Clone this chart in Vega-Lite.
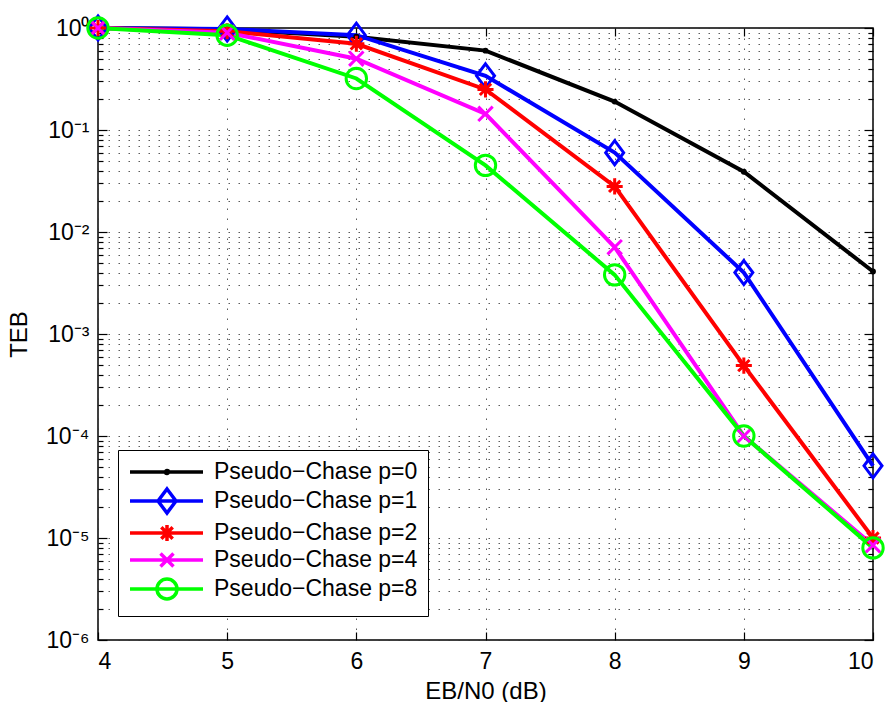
{
  "$schema": "https://vega.github.io/schema/vega-lite/v6.json",
  "width": 775,
  "height": 612,
  "autosize": "none",
  "padding": {"left": 98, "top": 28, "right": 15, "bottom": 62},
  "background": "white",
  "config": {
    "font": "Liberation Sans",
    "view": {"stroke": "black", "strokeWidth": 1.5},
    "axis": {
      "titleFontWeight": "normal",
      "titleFontSize": 24,
      "titleColor": "black",
      "labelFontSize": 23,
      "labelColor": "black",
      "domain": false,
      "tickColor": "black",
      "tickWidth": 1.2,
      "gridColor": "#333333",
      "gridDash": [1.5, 8.5],
      "gridWidth": 1,
      "gridOpacity": 0.8
    }
  },
  "data": {
    "values": [
      {"x": 4, "teb": 1, "series": "Pseudo−Chase p=0"},
      {"x": 5, "teb": 0.97, "series": "Pseudo−Chase p=0"},
      {"x": 6, "teb": 0.82, "series": "Pseudo−Chase p=0"},
      {"x": 7, "teb": 0.6, "series": "Pseudo−Chase p=0"},
      {"x": 8, "teb": 0.19, "series": "Pseudo−Chase p=0"},
      {"x": 9, "teb": 0.039, "series": "Pseudo−Chase p=0"},
      {"x": 10, "teb": 0.0041, "series": "Pseudo−Chase p=0"},
      {"x": 4, "teb": 1, "series": "Pseudo−Chase p=1"},
      {"x": 5, "teb": 0.98, "series": "Pseudo−Chase p=1"},
      {"x": 6, "teb": 0.85, "series": "Pseudo−Chase p=1"},
      {"x": 7, "teb": 0.34, "series": "Pseudo−Chase p=1"},
      {"x": 8, "teb": 0.06, "series": "Pseudo−Chase p=1"},
      {"x": 9, "teb": 0.004, "series": "Pseudo−Chase p=1"},
      {"x": 10, "teb": 0.000051, "series": "Pseudo−Chase p=1"},
      {"x": 4, "teb": 1, "series": "Pseudo−Chase p=2"},
      {"x": 5, "teb": 0.93, "series": "Pseudo−Chase p=2"},
      {"x": 6, "teb": 0.7, "series": "Pseudo−Chase p=2"},
      {"x": 7, "teb": 0.25, "series": "Pseudo−Chase p=2"},
      {"x": 8, "teb": 0.028, "series": "Pseudo−Chase p=2"},
      {"x": 9, "teb": 0.00049, "series": "Pseudo−Chase p=2"},
      {"x": 10, "teb": 0.00001, "series": "Pseudo−Chase p=2"},
      {"x": 4, "teb": 1, "series": "Pseudo−Chase p=4"},
      {"x": 5, "teb": 0.9, "series": "Pseudo−Chase p=4"},
      {"x": 6, "teb": 0.5, "series": "Pseudo−Chase p=4"},
      {"x": 7, "teb": 0.144, "series": "Pseudo−Chase p=4"},
      {"x": 8, "teb": 0.0071, "series": "Pseudo−Chase p=4"},
      {"x": 9, "teb": 0.0001, "series": "Pseudo−Chase p=4"},
      {"x": 10, "teb": 0.0000085, "series": "Pseudo−Chase p=4"},
      {"x": 4, "teb": 1, "series": "Pseudo−Chase p=8"},
      {"x": 5, "teb": 0.85, "series": "Pseudo−Chase p=8"},
      {"x": 6, "teb": 0.32, "series": "Pseudo−Chase p=8"},
      {"x": 7, "teb": 0.045, "series": "Pseudo−Chase p=8"},
      {"x": 8, "teb": 0.0038, "series": "Pseudo−Chase p=8"},
      {"x": 9, "teb": 0.0001, "series": "Pseudo−Chase p=8"},
      {"x": 10, "teb": 0.000008, "series": "Pseudo−Chase p=8"}
    ]
  },
  "encoding": {
    "x": {"field": "x", "type": "quantitative", "scale": {"domain": [4, 10], "nice": false, "zero": false}, "axis": null},
    "y": {"field": "teb", "type": "quantitative", "scale": {"type": "log", "domain": [0.000001, 1], "nice": false}, "axis": null},
    "color": {
      "field": "series", "type": "nominal",
      "scale": {
        "domain": ["Pseudo−Chase p=0", "Pseudo−Chase p=1", "Pseudo−Chase p=2", "Pseudo−Chase p=4", "Pseudo−Chase p=8"],
        "range": ["#000000", "#0000ff", "#ff0000", "#ff00ff", "#00ff00"]
      },
      "legend": null
    }
  },
  "layer": [
    {
      "mark": {"type": "line", "strokeWidth": 4},
      "encoding": {
        "x": {
          "field": "x", "type": "quantitative",
          "axis": {
            "orient": "bottom", "title": "EB/N0 (dB)", "values": [4, 5, 6, 7, 8, 9, 10],
            "grid": true, "tickSize": -8, "labelPadding": 18, "titlePadding": 6
          }
        },
        "y": {
          "field": "teb", "type": "quantitative",
          "axis": {
            "orient": "left", "title": "TEB", "grid": true,
            "values": [0.000001, 0.000002, 0.000003, 0.000004, 0.000005, 0.000006, 0.000007, 0.000008, 0.000009,
                       0.00001, 0.00002, 0.00003, 0.00004, 0.00005, 0.00006, 0.00007, 0.00008, 0.00009,
                       0.0001, 0.0002, 0.0003, 0.0004, 0.0005, 0.0006, 0.0007, 0.0008, 0.0009,
                       0.001, 0.002, 0.003, 0.004, 0.005, 0.006, 0.007, 0.008, 0.009,
                       0.01, 0.02, 0.03, 0.04, 0.05, 0.06, 0.07, 0.08, 0.09,
                       0.1, 0.2, 0.3, 0.4, 0.5, 0.6, 0.7, 0.8, 0.9, 1],
            "labelExpr": "abs(log(datum.value)/LN10 - round(log(datum.value)/LN10)) < 0.001 ? '10' + ['⁰','⁻¹','⁻²','⁻³','⁻⁴','⁻⁵','⁻⁶'][-round(log(datum.value)/LN10)] : ''",
            "tickSize": {"condition": {"test": "abs(log(datum.value)/LN10 - round(log(datum.value)/LN10)) < 0.001", "value": -9}, "value": -5},
            "labelPadding": 18,
            "titlePadding": 14
          }
        },
        "color": {
          "field": "series", "type": "nominal",
          "legend": {
            "title": null, "orient": "none", "legendX": 20, "legendY": 422,
            "fillColor": "white", "strokeColor": "black", "padding": 10,
            "labelFontSize": 23, "labelFont": "Liberation Sans", "labelColor": "black",
            "labelOffset": 62, "labelLimit": 400, "symbolSize": 400, "symbolStrokeWidth": 3.5,
            "rowPadding": -2,
            "encode": {
              "symbols": {
                "update": {
                  "shape": {"signal": "['M-1,0H6.3M2.85,0A0.15,0.15 0 1 1 2.55,0A0.15,0.15 0 1 1 2.85,0', 'M-1,0H6.3M2.7,-1.2L3.6,0L2.7,1.2L1.8,0Z', 'M-1,0H6.3M2.7,-0.8V0.8M1.9,0H3.5M2.13,-0.57L3.27,0.57M2.13,0.57L3.27,-0.57', 'M-1,0H6.3M2.05,-0.65L3.35,0.65M2.05,0.65L3.35,-0.65', 'M-1,0H6.3M3.7,0A1,1 0 1 1 1.7,0A1,1 0 1 1 3.7,0'][indexof(['Pseudo−Chase p=0','Pseudo−Chase p=1','Pseudo−Chase p=2','Pseudo−Chase p=4','Pseudo−Chase p=8'], datum.value)]"},
                  "fill": {"value": "transparent"}
                }
              }
            }
          }
        }
      }
    },
    {
      "transform": [{"filter": "datum.series == 'Pseudo−Chase p=0'"}],
      "mark": {"type": "point", "filled": false, "strokeWidth": 3, "size": 576, "opacity": 1, "shape": "M0.12,0A0.12,0.12 0 1 1 -0.12,0A0.12,0.12 0 1 1 0.12,0"},
      "encoding": {
        "x": {
          "field": "x", "type": "quantitative",
          "axis": {"orient": "top", "title": null, "labels": false, "grid": false, "values": [4, 5, 6, 7, 8, 9, 10], "tickSize": -8}
        },
        "y": {
          "field": "teb", "type": "quantitative",
          "axis": {
            "orient": "right", "title": null, "labels": false, "grid": false,
            "values": [0.000001, 0.000002, 0.000003, 0.000004, 0.000005, 0.000006, 0.000007, 0.000008, 0.000009,
                       0.00001, 0.00002, 0.00003, 0.00004, 0.00005, 0.00006, 0.00007, 0.00008, 0.00009,
                       0.0001, 0.0002, 0.0003, 0.0004, 0.0005, 0.0006, 0.0007, 0.0008, 0.0009,
                       0.001, 0.002, 0.003, 0.004, 0.005, 0.006, 0.007, 0.008, 0.009,
                       0.01, 0.02, 0.03, 0.04, 0.05, 0.06, 0.07, 0.08, 0.09,
                       0.1, 0.2, 0.3, 0.4, 0.5, 0.6, 0.7, 0.8, 0.9, 1],
            "tickSize": {"condition": {"test": "abs(log(datum.value)/LN10 - round(log(datum.value)/LN10)) < 0.001", "value": -9}, "value": -5}
          }
        }
      }
    },
    {
      "transform": [{"filter": "datum.series == 'Pseudo−Chase p=1'"}],
      "mark": {"type": "point", "filled": false, "strokeWidth": 3, "size": 576, "opacity": 1, "shape": "M0,-1L0.75,0L0,1L-0.75,0Z"}
    },
    {
      "transform": [{"filter": "datum.series == 'Pseudo−Chase p=2'"}],
      "mark": {"type": "point", "filled": false, "strokeWidth": 3, "size": 576, "opacity": 1, "shape": "M0,-0.67V0.67M-0.67,0H0.67M-0.47,-0.47L0.47,0.47M-0.47,0.47L0.47,-0.47"}
    },
    {
      "transform": [{"filter": "datum.series == 'Pseudo−Chase p=4'"}],
      "mark": {"type": "point", "filled": false, "strokeWidth": 3, "size": 576, "opacity": 1, "shape": "M-0.6,-0.6L0.6,0.6M-0.6,0.6L0.6,-0.6"}
    },
    {
      "transform": [{"filter": "datum.series == 'Pseudo−Chase p=8'"}],
      "mark": {"type": "point", "filled": false, "strokeWidth": 3, "size": 576, "opacity": 1, "shape": "M0.85,0A0.85,0.85 0 1 1 -0.85,0A0.85,0.85 0 1 1 0.85,0"}
    }
  ],
  "resolve": {"axis": {"x": "independent", "y": "independent"}}
}
